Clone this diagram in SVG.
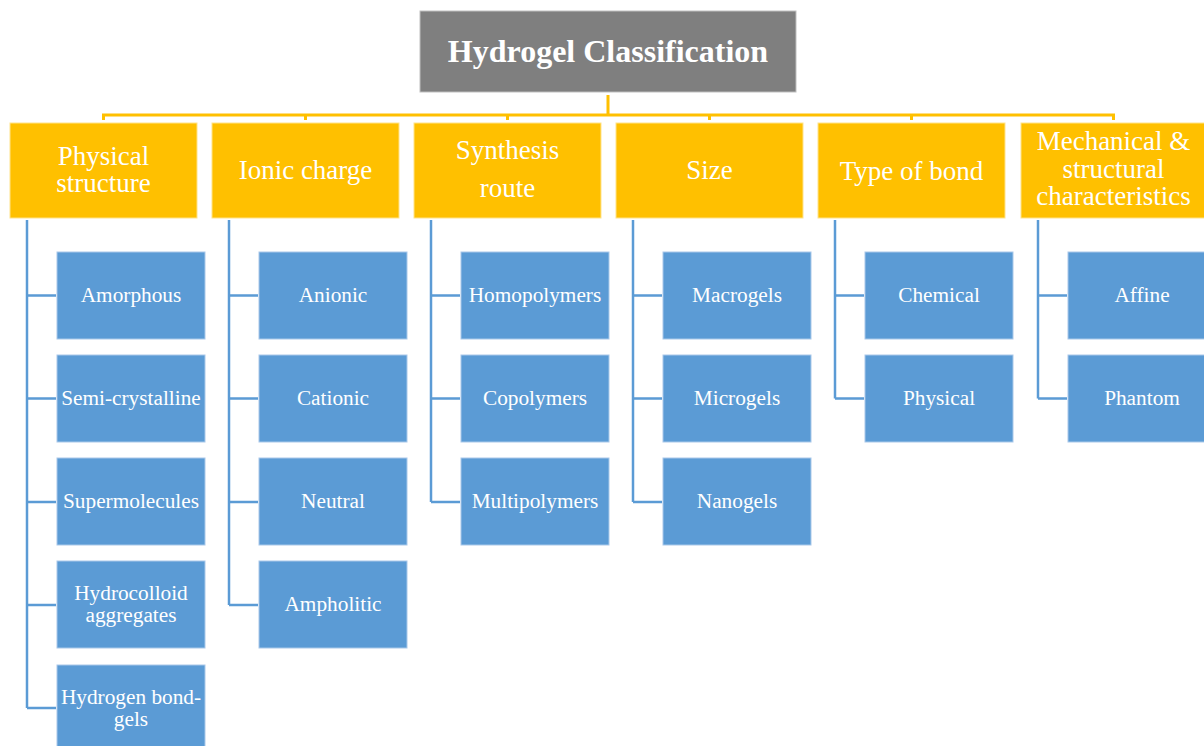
<svg xmlns="http://www.w3.org/2000/svg" width="1204" height="746" viewBox="0 0 1204 746">
<style>
.title{fill:#7f7f7f;stroke:#bfbfbf;stroke-width:1}
.cat{fill:#ffc000;stroke:#ffe38a;stroke-width:1}
.leaf{fill:#5b9bd5;stroke:#a9c8e9;stroke-width:1}
.tt{font-family:"Liberation Serif","Times New Roman",serif;font-weight:bold;font-size:32px;fill:#fff;text-anchor:middle}
.ct{font-family:"Liberation Serif","Times New Roman",serif;font-size:27px;fill:#fff;text-anchor:middle}
.lt{font-family:"Liberation Serif","Times New Roman",serif;font-size:21.3px;fill:#fff;text-anchor:middle}
.yl{stroke:#ffc000;stroke-width:3;fill:none}
.bl{stroke:#5b9bd5;stroke-width:2.5;fill:none}
</style>
<rect width="1204" height="746" fill="#fff"/>
<g id="connectors">
<path class="yl" d="M608 95V115M103.5 120V115H1113.5V120M305.5 115V120M507.5 115V120M709.5 115V120M911.5 115V120"/>
<path class="bl" d="M27 220V708M27 295.5H56M27 398.5H56M27 502H56M27 605H56M27 708H56"/>
<path class="bl" d="M229 220V605M229 295.5H258M229 398.5H258M229 502H258M229 605H258"/>
<path class="bl" d="M431 220V502M431 295.5H460M431 398.5H460M431 502H460"/>
<path class="bl" d="M633 220V502M633 295.5H662M633 398.5H662M633 502H662"/>
<path class="bl" d="M835 220V398.5M835 295.5H864M835 398.5H864"/>
<path class="bl" d="M1038 220V398.5M1038 295.5H1067M1038 398.5H1067"/>
</g>
<g id="root"><rect class="title" x="420" y="11" width="376" height="81"/><text class="tt" x="608" y="62">Hydrogel Classification</text></g>
<g id="cat-physical"><rect class="cat" x="10" y="123" width="187" height="95"/><text class="ct" x="103.5" y="165">Physical</text><text class="ct" x="103.5" y="192">structure</text></g>
<g id="cat-ionic"><rect class="cat" x="212" y="123" width="187" height="95"/><text class="ct" x="305.5" y="179">Ionic charge</text></g>
<g id="cat-synthesis"><rect class="cat" x="414" y="123" width="187" height="95"/><text class="ct" x="507.5" y="159">Synthesis</text><text class="ct" x="507.5" y="197">route</text></g>
<g id="cat-size"><rect class="cat" x="616" y="123" width="187" height="95"/><text class="ct" x="709.5" y="179">Size</text></g>
<g id="cat-bond"><rect class="cat" x="818" y="123" width="187" height="95"/><text class="ct" x="911.5" y="180">Type of bond</text></g>
<g id="cat-mech"><rect class="cat" x="1021" y="123" width="187" height="95"/><text class="ct" x="1113.5" y="150">Mechanical &amp;</text><text class="ct" x="1113.5" y="178">structural</text><text class="ct" x="1113.5" y="205">characteristics</text></g>
<g id="leaf-amorphous"><rect class="leaf" x="57" y="252" width="148" height="87"/><text class="lt" x="131" y="302">Amorphous</text></g>
<g id="leaf-semi"><rect class="leaf" x="57" y="355" width="148" height="87"/><text class="lt" x="131" y="405">Semi-crystalline</text></g>
<g id="leaf-super"><rect class="leaf" x="57" y="458" width="148" height="87"/><text class="lt" x="131" y="508">Supermolecules</text></g>
<g id="leaf-hydrocolloid"><rect class="leaf" x="57" y="561" width="148" height="87"/><text class="lt" x="131" y="600">Hydrocolloid</text><text class="lt" x="131" y="622">aggregates</text></g>
<g id="leaf-hbond"><rect class="leaf" x="57" y="665" width="148" height="87"/><text class="lt" x="131" y="704">Hydrogen bond-</text><text class="lt" x="131" y="726">gels</text></g>
<g id="leaf-anionic"><rect class="leaf" x="259" y="252" width="148" height="87"/><text class="lt" x="333" y="302">Anionic</text></g>
<g id="leaf-cationic"><rect class="leaf" x="259" y="355" width="148" height="87"/><text class="lt" x="333" y="405">Cationic</text></g>
<g id="leaf-neutral"><rect class="leaf" x="259" y="458" width="148" height="87"/><text class="lt" x="333" y="508">Neutral</text></g>
<g id="leaf-ampholitic"><rect class="leaf" x="259" y="561" width="148" height="87"/><text class="lt" x="333" y="611">Ampholitic</text></g>
<g id="leaf-homo"><rect class="leaf" x="461" y="252" width="148" height="87"/><text class="lt" x="535" y="302">Homopolymers</text></g>
<g id="leaf-co"><rect class="leaf" x="461" y="355" width="148" height="87"/><text class="lt" x="535" y="405">Copolymers</text></g>
<g id="leaf-multi"><rect class="leaf" x="461" y="458" width="148" height="87"/><text class="lt" x="535" y="508">Multipolymers</text></g>
<g id="leaf-macro"><rect class="leaf" x="663" y="252" width="148" height="87"/><text class="lt" x="737" y="302">Macrogels</text></g>
<g id="leaf-micro"><rect class="leaf" x="663" y="355" width="148" height="87"/><text class="lt" x="737" y="405">Microgels</text></g>
<g id="leaf-nano"><rect class="leaf" x="663" y="458" width="148" height="87"/><text class="lt" x="737" y="508">Nanogels</text></g>
<g id="leaf-chemical"><rect class="leaf" x="865" y="252" width="148" height="87"/><text class="lt" x="939" y="302">Chemical</text></g>
<g id="leaf-physical"><rect class="leaf" x="865" y="355" width="148" height="87"/><text class="lt" x="939" y="405">Physical</text></g>
<g id="leaf-affine"><rect class="leaf" x="1068" y="252" width="148" height="87"/><text class="lt" x="1142" y="302">Affine</text></g>
<g id="leaf-phantom"><rect class="leaf" x="1068" y="355" width="148" height="87"/><text class="lt" x="1142" y="405">Phantom</text></g>
</svg>
